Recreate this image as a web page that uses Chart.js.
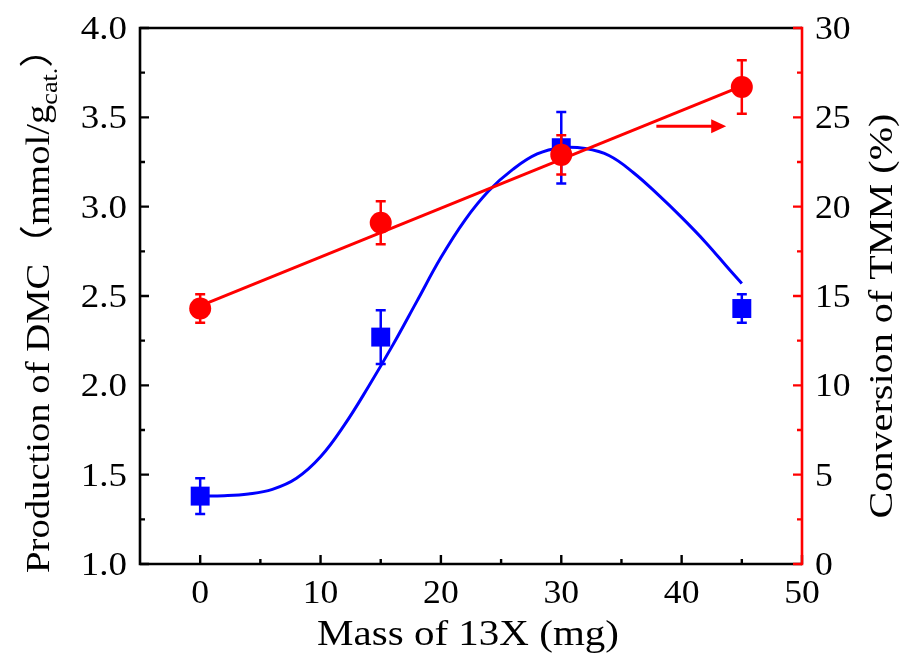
<!DOCTYPE html>
<html><head><meta charset="utf-8">
<script src="https://cdn.jsdelivr.net/npm/chart.js@4/dist/chart.umd.min.js"></script>
<style>html,body{margin:0;padding:0;background:#fff;overflow:hidden}</style>
</head><body>
<canvas id="c" width="905" height="653" style="width:905px;height:653px;display:block"></canvas>
<script>
// ---- data ----
const MASS = [0, 15, 30, 45];
const DMC = [1.38, 2.27, 3.33, 2.43];
const DMC_ERR_LOW = [1.28, 2.12, 3.13, 2.35];
const DMC_ERR_HIGH = [1.48, 2.42, 3.53, 2.51];
const TMM = [14.3, 19.1, 22.9, 26.7];
const TMM_ERR_LOW = [13.5, 17.9, 21.8, 25.2];
const TMM_ERR_HIGH = [15.1, 20.3, 24.0, 28.2];
const FIT_DMC_X = [0, 2, 4, 6, 8, 10, 12, 14, 16, 18, 20, 22, 24, 26, 28, 30, 32, 34, 36, 38, 40, 42, 44, 45];
const FIT_DMC_Y = [1.38, 1.382, 1.392, 1.418, 1.48, 1.60, 1.78, 1.995, 2.225, 2.47, 2.715, 2.925, 3.09, 3.21, 3.295, 3.33, 3.325, 3.285, 3.19, 3.07, 2.94, 2.80, 2.645, 2.57];
const FIT_TMM_X = [0, 45];
const FIT_TMM_Y = [14.45, 26.75];
const X_TICKS = [0, 10, 20, 30, 40, 50];
const X_MINOR = [5, 15, 25, 35, 45];
const YL_TICKS = [1.0, 1.5, 2.0, 2.5, 3.0, 3.5, 4.0];
const YL_MINOR = [1.25, 1.75, 2.25, 2.75, 3.25, 3.75];
const YR_TICKS = [0, 5, 10, 15, 20, 25, 30];
const YR_MINOR = [2.5, 7.5, 12.5, 17.5, 22.5, 27.5];
const ARROW_X = [37.9, 43.7];   // arrow pointing to right axis (x in mg)
const ARROW_Y = 3.45;           // on left axis scale

const BLUE = '#0000FF', RED = '#FF0000', BLACK = '#000000';
const SERIF = "'Liberation Serif', 'Times New Roman', serif";
const CJK = "'Liberation Serif', 'Noto Sans CJK SC', serif";

const pts = (xs, ys) => xs.map((x, i) => ({x, y: ys[i]}));

function drawTextScaled(ctx, text, x, y, sx, align) {
  ctx.save();
  ctx.translate(x, y);
  ctx.scale(sx, 1);
  ctx.textAlign = align;
  ctx.fillText(text, 0, 0);
  ctx.restore();
}

const overlay = {
  id: 'overlay',
  beforeDatasetDraw(chart, args) {
    const ds = chart.data.datasets[args.index];
    if (!ds.errLow) return;
    const ctx = chart.ctx;
    const xs = chart.scales.x, ys = chart.scales[ds.yAxisID];
    ctx.save();
    ctx.strokeStyle = ds.backgroundColor;
    ctx.lineWidth = 2.5;
    ds.data.forEach((p, i) => {
      const px = xs.getPixelForValue(p.x);
      const y1 = ys.getPixelForValue(ds.errLow[i]);
      const y2 = ys.getPixelForValue(ds.errHigh[i]);
      ctx.beginPath();
      ctx.moveTo(px, y1); ctx.lineTo(px, y2);
      ctx.moveTo(px - 5, y1); ctx.lineTo(px + 5, y1);
      ctx.moveTo(px - 5, y2); ctx.lineTo(px + 5, y2);
      ctx.stroke();
    });
    ctx.restore();
  },
  afterDraw(chart) {
    const ctx = chart.ctx;
    const a = chart.chartArea;
    const xs = chart.scales.x, yl = chart.scales.y, yr = chart.scales.y1;
    ctx.save();
    // arrow
    const ax1 = xs.getPixelForValue(ARROW_X[0]), ax2 = xs.getPixelForValue(ARROW_X[1]);
    const ay = yl.getPixelForValue(ARROW_Y);
    ctx.strokeStyle = RED; ctx.fillStyle = RED; ctx.lineWidth = 3;
    ctx.beginPath(); ctx.moveTo(ax1, ay); ctx.lineTo(ax2 - 12, ay); ctx.stroke();
    ctx.beginPath(); ctx.moveTo(ax2, ay); ctx.lineTo(ax2 - 15, ay - 7); ctx.lineTo(ax2 - 15, ay + 7); ctx.closePath(); ctx.fill();

    // frame
    ctx.lineCap = 'butt';
    ctx.lineWidth = 2.6;
    ctx.strokeStyle = BLACK;
    ctx.beginPath();
    ctx.moveTo(a.left, a.top); ctx.lineTo(a.right, a.top);
    ctx.moveTo(a.left, a.top - 1.3); ctx.lineTo(a.left, a.bottom + 1.3);
    ctx.moveTo(a.left, a.bottom); ctx.lineTo(a.right, a.bottom);
    ctx.stroke();
    // ticks: left and bottom (inward)
    ctx.lineWidth = 2.4;
    ctx.beginPath();
    YL_TICKS.forEach(v => { const y = yl.getPixelForValue(v); ctx.moveTo(a.left, y); ctx.lineTo(a.left + 9, y); });
    YL_MINOR.forEach(v => { const y = yl.getPixelForValue(v); ctx.moveTo(a.left, y); ctx.lineTo(a.left + 5, y); });
    X_TICKS.forEach(v => { const x = xs.getPixelForValue(v); ctx.moveTo(x, a.bottom); ctx.lineTo(x, a.bottom - 9); });
    X_MINOR.forEach(v => { const x = xs.getPixelForValue(v); ctx.moveTo(x, a.bottom); ctx.lineTo(x, a.bottom - 5); });
    ctx.stroke();
    // right axis (red)
    ctx.strokeStyle = RED;
    ctx.lineWidth = 2.6;
    ctx.beginPath(); ctx.moveTo(a.right, a.top - 1.3); ctx.lineTo(a.right, a.bottom + 1.3); ctx.stroke();
    ctx.lineWidth = 2.4;
    ctx.beginPath();
    YR_TICKS.forEach(v => { const y = yr.getPixelForValue(v); ctx.moveTo(a.right, y); ctx.lineTo(a.right - 9, y); });
    YR_MINOR.forEach(v => { const y = yr.getPixelForValue(v); ctx.moveTo(a.right, y); ctx.lineTo(a.right - 5, y); });
    ctx.stroke();

    // tick labels
    ctx.fillStyle = BLACK;
    ctx.font = '33px ' + SERIF;
    ctx.textBaseline = 'alphabetic';
    X_TICKS.forEach(v => drawTextScaled(ctx, String(v), xs.getPixelForValue(v), a.bottom + 39, 1.08, 'center'));
    YL_TICKS.forEach(v => drawTextScaled(ctx, v.toFixed(1), a.left - 13, yl.getPixelForValue(v) + 11, 1.12, 'right'));
    YR_TICKS.forEach(v => drawTextScaled(ctx, String(v), a.right + 13, yr.getPixelForValue(v) + 11, 1.08, 'left'));

    // bottom title
    ctx.font = '35px ' + SERIF;
    const bt = 'Mass of 13X (mg)';
    const bw = ctx.measureText(bt).width;
    drawTextScaled(ctx, bt, 468, 645, 302 / bw, 'center');

    // left title (rotated), with subscript
    ctx.save();
    ctx.translate(49, 301);
    ctx.rotate(-Math.PI / 2);
    const m1 = 'Production of DMC\uFF08mmol/g', sb = 'cat.', m2 = '\uFF09';
    ctx.font = '34px ' + CJK;
    const w1 = ctx.measureText(m1).width, w3 = ctx.measureText(m2).width;
    ctx.font = '23px ' + CJK;
    const w2 = ctx.measureText(sb).width;
    const tot = w1 + w2 + w3;
    const sc = 544 / tot;
    ctx.scale(sc, 1);
    let x0 = -tot / 2;
    ctx.textAlign = 'left';
    ctx.font = '34px ' + CJK; ctx.fillText(m1, x0, 0);
    ctx.font = '23px ' + CJK; ctx.fillText(sb, x0 + w1, 8);
    ctx.font = '34px ' + CJK; ctx.fillText(m2, x0 + w1 + w2, 0);
    ctx.restore();

    // right title (rotated)
    ctx.save();
    ctx.translate(892, 316);
    ctx.rotate(-Math.PI / 2);
    ctx.font = '34px ' + SERIF;
    const rt = 'Conversion of TMM (%)';
    const rw = ctx.measureText(rt).width;
    ctx.scale(405 / rw, 1);
    ctx.textAlign = 'center';
    ctx.fillText(rt, 0, 0);
    ctx.restore();

    ctx.restore();
  }
};

new Chart(document.getElementById('c'), {
  type: 'line',
  data: {
    datasets: [
      { label: 'TMM', data: pts(MASS, TMM), yAxisID: 'y1', showLine: false, order: 1,
        pointStyle: 'circle', pointRadius: 11, pointBackgroundColor: RED, pointBorderWidth: 0,
        backgroundColor: RED, borderColor: RED, errLow: TMM_ERR_LOW, errHigh: TMM_ERR_HIGH },
      { label: 'TMM fit', data: pts(FIT_TMM_X, FIT_TMM_Y), yAxisID: 'y1', order: 2,
        borderColor: RED, borderWidth: 3, pointRadius: 0, fill: false },
      { label: 'DMC', data: pts(MASS, DMC), yAxisID: 'y', showLine: false, order: 3,
        pointStyle: 'rect', pointRadius: 13.4, pointBackgroundColor: BLUE, pointBorderWidth: 0,
        backgroundColor: BLUE, borderColor: BLUE, errLow: DMC_ERR_LOW, errHigh: DMC_ERR_HIGH },
      { label: 'DMC fit', data: pts(FIT_DMC_X, FIT_DMC_Y), yAxisID: 'y', order: 4,
        borderColor: BLUE, borderWidth: 3, pointRadius: 0, fill: false,
        tension: 0.4, cubicInterpolationMode: 'default' }
    ]
  },
  options: {
    responsive: false,
    animation: false,
    devicePixelRatio: 1,
    layout: { padding: { top: 28, left: 0, right: 0, bottom: 0 } },
    plugins: { legend: { display: false }, tooltip: { enabled: false } },
    scales: {
      x: { type: 'linear', position: 'bottom', min: -5, max: 50,
        afterBuildTicks: s => { s.ticks = X_TICKS.map(v => ({value: v})); },
        afterFit: s => { s.height = 89; },
        grid: { display: false }, border: { display: false }, ticks: { display: false } },
      y: { type: 'linear', position: 'left', min: 1, max: 4,
        afterBuildTicks: s => { s.ticks = YL_TICKS.map(v => ({value: v})); },
        afterFit: s => { s.width = 140; },
        grid: { display: false }, border: { display: false }, ticks: { display: false } },
      y1: { type: 'linear', position: 'right', min: 0, max: 30,
        afterBuildTicks: s => { s.ticks = YR_TICKS.map(v => ({value: v})); },
        afterFit: s => { s.width = 103; },
        grid: { display: false }, border: { display: false }, ticks: { display: false } }
    }
  },
  plugins: [overlay]
});
</script>
</body></html>
